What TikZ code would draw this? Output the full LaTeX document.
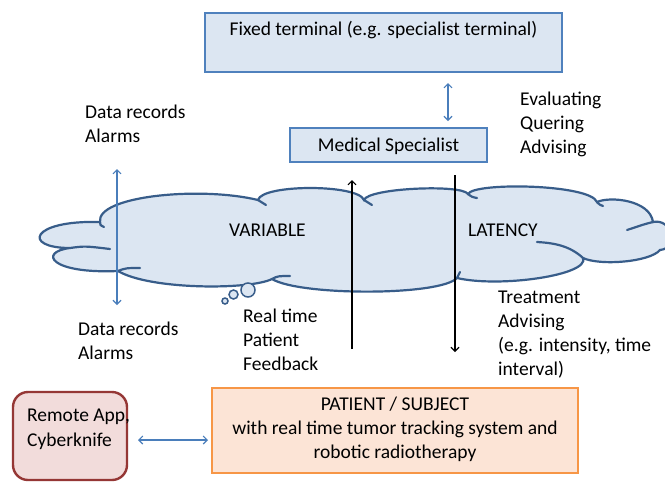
\documentclass[tikz,border=0pt]{standalone}
\usepackage{fontspec}
\setmainfont{Carlito}
\usetikzlibrary{arrows.meta}
\definecolor{cloudfill}{RGB}{220,230,242}
\definecolor{cloudline}{RGB}{56,93,138}
\definecolor{boxline}{RGB}{79,129,189}
\definecolor{arrowblue}{RGB}{74,126,187}
\definecolor{pfill}{RGB}{252,228,214}
\definecolor{pline}{RGB}{247,150,70}
\definecolor{rfill}{RGB}{242,220,219}
\definecolor{rline}{RGB}{149,55,53}
\begin{document}
\begin{tikzpicture}[x=1pt,y=-1pt,
  txt/.style={inner sep=0pt, font=\fontsize{19.5}{24}\selectfont, anchor=base west},
  ctxt/.style={txt, anchor=base},
  boxbase/.style={inner sep=0pt, outer sep=0pt},
  bluebox/.style={boxbase, draw=boxline, fill=cloudfill, line width=1.3pt},
  patbox/.style={boxbase, draw=pline, fill=pfill, line width=1.5pt},
  rembox/.style={boxbase, draw=rline, fill=rfill, line width=2.4pt, rounded corners=15pt},
  barrow/.style={draw=arrowblue, line width=1.1pt, {Straight Barb[length=4pt,width=8pt]}-{Straight Barb[length=4pt,width=8pt]}},
  karrow/.style={draw=black, line width=1.1pt, -{Straight Barb[length=4pt,width=8pt]}},
  cloudstroke/.style={draw=cloudline, line width=2.2pt, line cap=round},
  bubble/.style={draw=cloudline, fill=cloudfill, line width=1.5pt}]
\clip (0,0) rectangle (665,483);
\fill[white] (0,0) rectangle (665,483);

% cloud
\path[cloudstroke, fill=cloudfill]
  (100,222) .. controls (96,196) and (200,186) .. (258,200)
  .. controls (262,184) and (358,184) .. (364,200)
  .. controls (368,188) and (462,184) .. (468,194)
  .. controls (474,182) and (590,184) .. (597,202)
  .. controls (610,196) and (650,200) .. (653,222)
  .. controls (672,218) and (680,248) .. (660,250)
  .. controls (650,262) and (600,266) .. (583,258)
  .. controls (590,275) and (500,288) .. (457,278)
  .. controls (440,296) and (300,296) .. (272,279)
  .. controls (250,290) and (150,290) .. (118,271)
  .. controls (50,274) and (38,252) .. (70,248)
  .. controls (22,248) and (30,220) .. (100,222) -- cycle;
% inner tails
\draw[cloudstroke] (100,222) .. controls (100,225) .. (104,227);
\draw[cloudstroke] (70,248) .. controls (85,246) .. (110,249);
\draw[cloudstroke] (118,271) .. controls (126,268) .. (140,268);
\draw[cloudstroke] (258,200) .. controls (262,202) .. (266,205);
\draw[cloudstroke] (364,200) .. controls (368,203) .. (372,205);
\draw[cloudstroke] (468,194) .. controls (472,197) .. (477,198);
\draw[cloudstroke] (597,202) .. controls (600,205) .. (603,206);
\draw[cloudstroke] (653,222) .. controls (645,224) .. (627,230);
\draw[cloudstroke] (583,258) .. controls (570,246) and (555,243) .. (537,242);
\draw[cloudstroke] (457,278) .. controls (458,275) .. (460,272);
\draw[cloudstroke] (272,279) .. controls (278,276) .. (290,276);
% thought bubbles
\draw[bubble] (248,290) circle[radius=7pt];
\draw[bubble] (233.5,294.5) circle[radius=4.5pt];
\draw[bubble] (225,301) circle[radius=3pt];

\node[txt] (var) at (229,236.5) {VARIABLE};
\node[txt] (lat) at (468,236.5) {LATENCY};

% boxes
\node[bluebox, minimum width=357pt, minimum height=59pt] (fixed) at (383.5,42.5) {};
\node[ctxt] (fixedt) at (383.5,35) {Fixed terminal (e.g. specialist terminal)};
\node[bluebox, minimum width=197pt, minimum height=34pt] (med) at (388.5,145) {};
\node[ctxt] (medt) at (388.5,151) {Medical Specialist};
\node[patbox, minimum width=366pt, minimum height=85pt] (pat) at (395,430.5) {};
\node[ctxt] (pat1) at (395,410) {PATIENT / SUBJECT};
\node[ctxt] (pat2) at (395,434) {with real time tumor tracking system and};
\node[ctxt] (pat3) at (395,458) {robotic radiotherapy};
\node[rembox, minimum width=114pt, minimum height=88pt] (rem) at (70,436) {};
\node[txt] (rem1) at (27,421) {Remote App,};
\node[txt] (rem2) at (27,446) {Cyberknife};

% labels
\node[txt] (dr1) at (85,118) {Data records};
\node[txt] (al1) at (85,142) {Alarms};
\node[txt] (dr2) at (78,335) {Data records};
\node[txt] (al2) at (78,359) {Alarms};
\node[txt] (ev) at (520,105) {Evaluating};
\node[txt] (qu) at (520,129) {Quering};
\node[txt] (ad) at (520,153) {Advising};
\node[txt] (rt1) at (243,322) {Real time};
\node[txt] (rt2) at (243,346) {Patient};
\node[txt] (rt3) at (243,370) {Feedback};
\node[txt] (tr1) at (498,303) {Treatment};
\node[txt] (tr2) at (498,327) {Advising};
\node[txt] (tr3) at (498,351) {(e.g. intensity, time};
\node[txt] (tr4) at (498,375) {interval)};

% connectors
\draw[barrow] ([xshift=64.5pt,yshift=-11pt]fixed.south) -- ([xshift=59.5pt,yshift=7pt]med.north);
\coordinate (vtop) at (117,169);
\coordinate (vbot) at (117,305);
\draw[barrow] (vtop) -- (vbot);
\draw[karrow] ([xshift=-43pt,yshift=39pt]pat.north) -- ([xshift=-36.5pt,yshift=-18pt]med.south);
\draw[karrow] ([xshift=66.5pt,yshift=-13pt]med.south) -- ([xshift=60pt,yshift=36pt]pat.north);
\draw[barrow] ([xshift=11pt,yshift=-4pt]rem.east) -- ([xshift=-4pt,yshift=-9.5pt]pat.west);
\end{tikzpicture}
\end{document}
